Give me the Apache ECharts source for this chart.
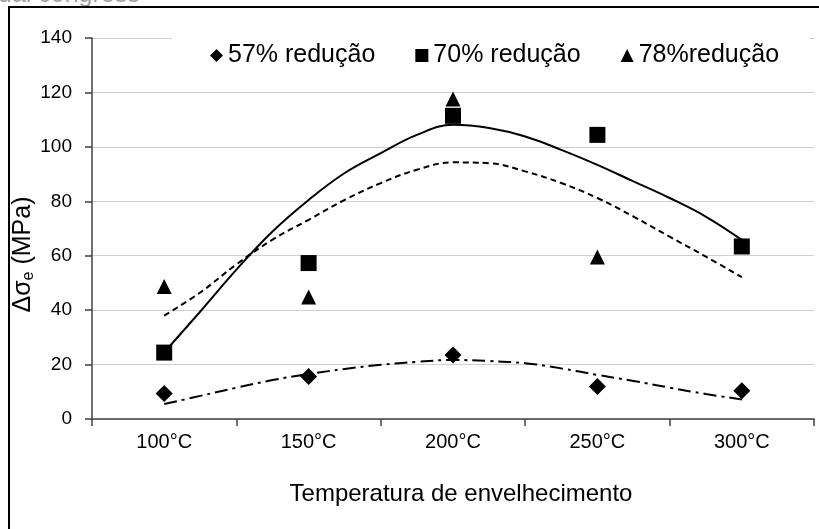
<!DOCTYPE html>
<html>
<head>
<meta charset="utf-8">
<script src="https://cdn.jsdelivr.net/npm/echarts@6/dist/echarts.min.js"></script>
<style>
html,body{margin:0;padding:0;background:#fff;}
#chart{width:819px;height:529px;}
</style>
</head>
<body>
<div id="chart"></div>
<script>
// Categories (x axis)
var categories = ['100°C', '150°C', '200°C', '250°C', '300°C'];
// Measured points
var red57 = [9.4, 15.6, 23.5, 11.9, 10.4];
var red70 = [24.4, 57.3, 111.4, 104.4, 63.4];
var red78 = [48.7, 44.8, 117.6, 59.5, 63.4];
// Trend curves, at category positions (0 = 100°C ... 4 = 300°C)
var trendPos = [0, 0.25, 0.5, 0.75, 1, 1.25, 1.5, 1.75, 2, 2.25, 2.5, 2.75, 3, 3.25, 3.5, 3.75, 4];
var trend70 = [24.5, 39.5, 54.9, 68.9, 80.5, 90.4, 97.7, 104.4, 108.1, 106.9, 103.8, 98.9, 93.4, 87.3, 81.2, 74.4, 65.8];
var trend78 = [38.0, 46.5, 56.8, 65.9, 73.2, 80.5, 86.7, 91.6, 94.3, 94.0, 91.0, 86.7, 81.2, 74.4, 67.0, 59.7, 52.1];
var trend57 = [5.5, 8.5, 11.5, 14.3, 16.5, 18.4, 19.9, 21.0, 21.7, 21.3, 20.5, 18.6, 16.2, 14.0, 11.5, 9.2, 7.2];
// Y ticks
var yMin = 0, yMax = 140, yStep = 20;
var legendNames = ['57% redução', '70% redução', '78%redução'];

function pairs(xs, ys) { return xs.map(function (x, i) { return [x, ys[i]]; }); }

var FONT = '"Liberation Sans", Arial, sans-serif';
var chart = echarts.init(document.getElementById('chart'), null, {renderer: 'canvas'});
chart.setOption({
  animation: false,
  backgroundColor: '#fff',
  textStyle: {fontFamily: FONT, color: '#000'},
  grid: {left: 92, right: 5, top: 38, bottom: 110, containLabel: false, outerBoundsMode: 'none'},
  legend: {
    data: [
      {name: legendNames[0], icon: 'diamond'},
      {name: legendNames[1], icon: 'rect'},
      {name: legendNames[2], icon: 'triangle'}
    ],
    left: 172, top: 32,
    padding: [11, 30, 8, 38],
    itemGap: 40,
    itemWidth: 13, itemHeight: 13,
    backgroundColor: '#fff',
    textStyle: {fontFamily: FONT, fontSize: 25, color: '#000'}
  },
  xAxis: [{
    type: 'category',
    data: categories,
    boundaryGap: true,
    axisLine: {onZero: false, lineStyle: {color: '#404040', width: 1.5}},
    axisTick: {show: true, length: 7, alignWithLabel: false, lineStyle: {color: '#404040', width: 1.5}},
    axisLabel: {fontFamily: FONT, fontSize: 20, color: '#000', margin: 13},
    splitLine: {show: false},
    name: 'Temperatura de envelhecimento',
    nameLocation: 'middle',
    nameGap: 63,
    nameMoveOverlap: false,
    nameTextStyle: {fontFamily: FONT, fontSize: 24, color: '#000', padding: [0, 0, 0, 16]}
  }, {
    type: 'value',
    min: -0.5, max: 4.5,
    show: false
  }],
  yAxis: {
    type: 'value',
    min: yMin, max: yMax, interval: yStep,
    axisLine: {show: true, onZero: false, lineStyle: {color: '#404040', width: 1.5}},
    axisTick: {show: true, length: 7, lineStyle: {color: '#404040', width: 1.5}},
    axisLabel: {fontFamily: FONT, fontSize: 19, color: '#000', margin: 20},
    splitLine: {show: true, lineStyle: {color: '#cfcfcf', width: 1}},
    name: '{a|Δσ}{s|e}{a| (MPa)}',
    nameLocation: 'middle',
    nameRotate: 90,
    nameGap: 55,
    nameMoveOverlap: false,
    nameTextStyle: {
      padding: [0, 52, 0, 0],
      rich: {
        a: {fontFamily: FONT, fontSize: 25, color: '#000', lineHeight: 28},
        s: {fontFamily: FONT, fontSize: 16, color: '#000', lineHeight: 28, verticalAlign: 'bottom', padding: [9, 0, 0, 0]}
      }
    }
  },
  series: [
    {name: legendNames[0], type: 'scatter', symbol: 'diamond', symbolSize: 17, itemStyle: {color: '#000', opacity: 1}, data: red57, z: 5},
    {name: legendNames[1], type: 'scatter', symbol: 'rect', symbolSize: 16, itemStyle: {color: '#000', opacity: 1}, data: red70, z: 5},
    {name: legendNames[2], type: 'scatter', symbol: 'triangle', symbolSize: 15, itemStyle: {color: '#000', opacity: 1}, data: red78, z: 4},
    {name: 'trend70', type: 'line', xAxisIndex: 1, data: pairs(trendPos, trend70), smooth: 0.4, symbol: 'none',
      lineStyle: {color: '#000', width: 2, type: 'solid'}, z: 3},
    {name: 'trend78', type: 'line', xAxisIndex: 1, data: pairs(trendPos, trend78), smooth: 0.4, symbol: 'none',
      lineStyle: {color: '#000', width: 2, type: [6, 4]}, z: 3},
    {name: 'trend57', type: 'line', xAxisIndex: 1, data: pairs(trendPos, trend57), smooth: 0.4, symbol: 'none',
      lineStyle: {color: '#000', width: 2, type: [13, 5, 3, 5]}, z: 3}
  ],
  graphic: [
    {type: 'text', left: -2, top: -17, z: 0, style: {text: 'ual congress', fontFamily: FONT, fontSize: 25, fill: '#a0a0a0'}},
    {type: 'rect', shape: {x: 9, y: 7, width: 830, height: 540}, style: {fill: 'none', stroke: '#000', lineWidth: 2}, z: 0}
  ]
});
</script>
</body>
</html>
